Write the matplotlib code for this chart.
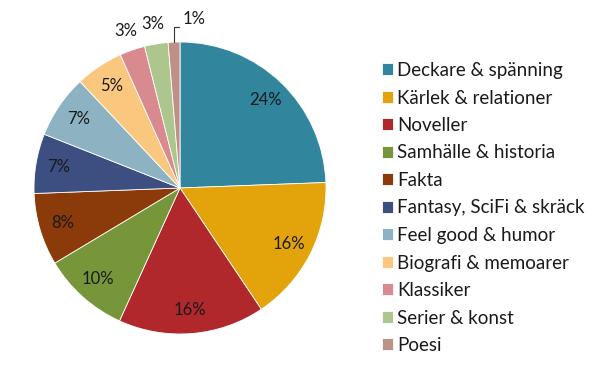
import matplotlib.pyplot as plt
import numpy as np

plt.rcParams['font.family'] = ['Lato', 'DejaVu Sans']

# data (andelar i procent)
kategorier = ['Deckare & spänning', 'Kärlek & relationer', 'Noveller', 'Samhälle & historia',
              'Fakta', 'Fantasy, SciFi & skräck', 'Feel good & humor', 'Biografi & memoarer',
              'Klassiker', 'Serier & konst', 'Poesi']
andelar = [24.4, 16.2, 16.2, 9.6, 8.0, 6.6, 7.0, 5.3, 2.8, 2.6, 1.3]
farger = ['#31859C', '#E3A30A', '#B0282B', '#77963A', '#8B3A0A', '#3D4F80',
          '#8DB3C2', '#FAC77F', '#D98A8F', '#ADC68E', '#BF9088']

fig = plt.figure(figsize=(6, 3.7), dpi=100)
ax = fig.add_axes([34 / 600, 36 / 370, 292 / 600, 292 / 370])

wedges, _ = ax.pie(andelar, colors=farger, startangle=90, counterclock=False,
                   wedgeprops=dict(edgecolor='white', linewidth=0.6))
ax.set_aspect('equal')
ax.set_xlim(-1, 1)
ax.set_ylim(-1, 1)

textfarg = '#1a1a1a'
total = sum(andelar)
cum = 0
for w, v in zip(wedges, andelar):
    mid = 90 - (cum + v / 2) / total * 360
    cum += v
    a = np.deg2rad(mid)
    txt = '%.0f%%' % (v / total * 100)
    if v >= 4:
        ax.text(0.84 * np.cos(a), 0.84 * np.sin(a), txt, ha='center', va='center',
                fontsize=12, color=textfarg)
    elif v > 2:
        ax.text(1.14 * np.cos(a), 1.14 * np.sin(a), txt, ha='center', va='center',
                fontsize=12, color=textfarg)
    else:
        ax.annotate(txt, xy=(np.cos(a), np.sin(a)), xytext=(0.02, 1.105),
                    ha='left', va='bottom', fontsize=12, color=textfarg,
                    arrowprops=dict(arrowstyle='-', color='#333333', lw=0.8,
                                    connectionstyle='angle,angleA=0,angleB=90,rad=0',
                                    relpos=(0, 0), shrinkA=1, shrinkB=0))

leg = fig.legend(wedges, kategorier, loc='upper left', bbox_to_anchor=(382 / 600, 1 - 62 / 370),
                 frameon=False, fontsize=13.5, handlelength=0.6, handleheight=0.6,
                 handletextpad=0.22, labelspacing=0.56, borderpad=0, borderaxespad=0)
for t in leg.get_texts():
    t.set_color(textfarg)

fig.savefig('out.png', dpi=100)
